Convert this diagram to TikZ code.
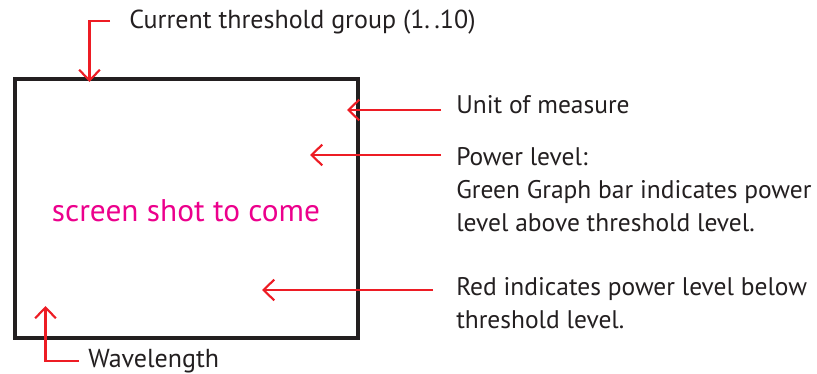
\documentclass[tikz,border=0pt]{standalone}
\usepackage{fontspec}
\setmainfont{PT Sans}
\usetikzlibrary{arrows.meta}
\definecolor{redl}{HTML}{ED1C24}
\definecolor{frame}{HTML}{231F20}
\definecolor{mag}{HTML}{EC008C}
\tikzset{
 px/.style={x=0.75pt,y=-0.75pt},
 lbl/.style={anchor=base west,inner sep=0pt,text=frame,font=\fontsize{19.1}{24.6}\selectfont,align=left},
 lblwide/.style={lbl,font=\fontsize{19.5}{24.6}\selectfont},
 leader/.style={draw=redl,line width=1.6pt,-{Straight Barb[length=8pt,width=15.5pt,line width=1.6pt]}}
}
\begin{document}
\begin{tikzpicture}[px]
\useasboundingbox (0,0) rectangle (817,374);
\draw[frame,line width=3.6pt] (15,79) rectangle (358,338);
\node[inner sep=0pt,text=mag,font=\fontsize{23.5}{28}\selectfont] (shot) at (186,211) {screen shot to come};
\node[lblwide] (t1) at (129,29) {Current threshold group (1.\,.10)};
\node[lbl] (t2) at (456,113.5) {Unit of measure};
\node[lbl] (t3) at (456,231) {Power level:\\Green Graph bar indicates power\\level above threshold level.};
\node[lbl] (t4) at (456,328) {Red indicates power level below\\threshold level.};
\node[lblwide] (t5) at (88,367) {Wavelength};
\coordinate (a1s) at (110,21);
\coordinate (a1m) at (89.5,21);
\coordinate (a1e) at (89.5,82);
\coordinate (a2s) at (441,110);
\coordinate (a2e) at (347,110);
\coordinate (a3s) at (441,155);
\coordinate (a3e) at (310,155);
\coordinate (a4s) at (433,290);
\coordinate (a4e) at (262,290);
\coordinate (a5s) at (79,361);
\coordinate (a5m) at (45.5,361);
\coordinate (a5e) at (45.5,306);
\draw[leader] (a1s) -- (a1m) -- (a1e);
\draw[leader] (a2s) -- (a2e);
\draw[leader] (a3s) -- (a3e);
\draw[leader] (a4s) -- (a4e);
\draw[leader] (a5s) -- (a5m) -- (a5e);
\end{tikzpicture}
\end{document}
